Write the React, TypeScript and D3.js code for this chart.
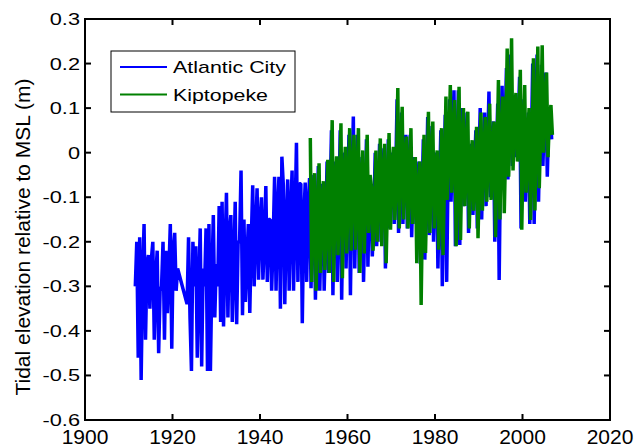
import React from 'react';
import * as d3 from 'd3';

// Atlantic City, 1911.5 - 1921.2 (values every 1/3 year)
const acEarlyStart = 1911.5;
const acEarly = [
  -0.30, -0.20, -0.46,
  -0.19, -0.51, -0.28,
  -0.16, -0.42, -0.25,
  -0.23, -0.35, -0.24,
  -0.20, -0.42, -0.28,
  -0.22, -0.45, -0.31,
  -0.30, -0.20, -0.42,
  -0.22, -0.36, -0.27,
  -0.16, -0.44, -0.22,
  -0.18, -0.31, -0.26,
];

// Atlantic City, 1923.33 - 2006.67 (gap before, joined by a straight line)
const acLateStart = 1923 + 1 / 3;
const acLate = [
  -0.34, -0.19, -0.37,
  -0.49, -0.20, -0.30,
  -0.21, -0.46, -0.30,
  -0.17, -0.48, -0.26,
  -0.30, -0.17, -0.49,
  -0.16, -0.49, -0.28,
  -0.14, -0.37, -0.25,
  -0.30, -0.12, -0.38,
  -0.11, -0.39, -0.22,
  -0.09, -0.37, -0.18,
  -0.14, -0.38, -0.25,
  -0.11, -0.385, -0.20,
  -0.20, -0.04, -0.365,
  -0.15, -0.335, -0.24,
  -0.16, -0.36, -0.20,
  -0.073, -0.30, -0.18,
  -0.08, -0.285, -0.16,
  -0.10, -0.285, -0.20,
  -0.075, -0.29, -0.15,
  -0.15, -0.31, -0.20,
  -0.054, -0.31, -0.13,
  -0.054, -0.35, -0.009,
  -0.073, -0.34, -0.16,
  -0.06, -0.31, -0.14,
  -0.04, -0.31, -0.15,
  0.022, -0.29, -0.07,
  -0.07, -0.383, -0.15,
  -0.067, -0.29, -0.12,
  -0.057, -0.304, -0.13,
  -0.05, -0.33, -0.17,
  -0.03, -0.31, -0.15,
  -0.07, -0.31, -0.18,
  -0.02, -0.27, -0.12,
  0.05, -0.32, -0.10,
  -0.02, -0.29, -0.14,
  0.05, -0.33, -0.10,
  0.0, -0.26, -0.11,
  0.04, -0.32, -0.08,
  0.081, -0.26, -0.06,
  0.04, -0.27, -0.10,
  -0.01, -0.29, -0.13,
  0.03, -0.256, -0.09,
  -0.08, -0.233, -0.15,
  0.0, -0.21, -0.10,
  0.02, -0.20, -0.08,
  0.01, -0.26, -0.11,
  0.03, -0.17, -0.05,
  0.0, -0.16, -0.06,
  0.12, -0.18, -0.02,
  0.09, -0.16, -0.03,
  0.04, -0.17, -0.06,
  0.04, -0.19, -0.07,
  -0.01, -0.16, -0.08,
  -0.02, -0.25, -0.12,
  0.03, -0.24, -0.09,
  0.08, -0.185, -0.05,
  0.06, -0.20, -0.06,
  0.0, -0.26, -0.10,
  0.05, -0.30, -0.08,
  0.085, -0.29, -0.04,
  0.12, -0.11, 0.02,
  0.14, -0.21, -0.02,
  0.14, -0.207, 0.0,
  0.10, -0.12, -0.01,
  0.09, -0.18, -0.03,
  0.02, -0.14, -0.05,
  0.05, -0.17, -0.04,
  0.10, -0.15, -0.01,
  0.09, -0.12, 0.0,
  0.137, -0.10, 0.02,
  0.07, -0.20, -0.02,
  0.11, -0.286, 0.0,
  0.15, -0.06, 0.05,
  0.19, -0.06, 0.07,
  0.22, -0.03, 0.08,
  0.13, -0.01, 0.06,
  0.17, -0.17, 0.03,
  0.12, -0.11, 0.02,
  0.09, -0.16, 0.0,
  0.20, -0.16, 0.05,
  0.22, -0.11, 0.06,
  0.197, -0.03, 0.08,
  0.18, -0.054, 0.07,
  0.10, 0.03,
];

// Kiptopeke, 1951.5 - 2006.8
const kpStart = 1951.5;
const kpValues = [
  0.033, -0.29, -0.10,
  -0.046, -0.31, -0.15,
  -0.024, -0.27, -0.12,
  -0.064, -0.263, -0.14,
  -0.016, -0.27, -0.10,
  0.073, -0.29, -0.08,
  -0.008, -0.23, -0.09,
  0.066, -0.282, -0.07,
  0.013, -0.226, -0.08,
  0.055, -0.22, -0.05,
  0.04, -0.218, -0.06,
  0.055, -0.27, -0.08,
  0.005, -0.226, -0.10,
  0.04, -0.18, -0.05,
  -0.078, -0.22, -0.13,
  0.005, -0.20, -0.08,
  0.032, -0.21, -0.07,
  0.02, -0.248, -0.09,
  0.044, -0.173, -0.04,
  0.013, -0.151, -0.05,
  0.145, -0.17, 0.0,
  0.103, -0.15, -0.02,
  0.036, -0.17, -0.06,
  0.055, -0.16, -0.04,
  -0.01, -0.248, -0.09,
  -0.02, -0.342, -0.10,
  0.04, -0.225, -0.07,
  0.092, -0.18, -0.02,
  0.07, -0.17, -0.04,
  0.005, -0.218, -0.09,
  0.055, -0.23, -0.06,
  0.126, -0.106, 0.01,
  0.152, -0.09, 0.03,
  0.118, -0.21, -0.02,
  0.148, -0.196, 0.0,
  0.10, -0.12, -0.01,
  0.092, -0.17, -0.03,
  0.028, -0.13, -0.05,
  0.058, -0.192, -0.04,
  0.09, -0.13, -0.01,
  0.08, -0.11, 0.0,
  0.11, -0.106, 0.01,
  0.07, -0.19, -0.02,
  0.163, -0.15, 0.02,
  0.126, -0.136, 0.02,
  0.234, -0.054, 0.06,
  0.257, -0.04, 0.08,
  0.134, -0.02, 0.05,
  0.186, -0.173, 0.03,
  0.152, -0.09, 0.02,
  0.10, -0.151, -0.01,
  0.212, -0.13, 0.04,
  0.238, -0.08, 0.06,
  0.241, 0.0, 0.09,
  0.18, -0.01, 0.08,
  0.107, 0.04,
];

const step = 1 / 3;
const xTicks = [1900, 1920, 1940, 1960, 1980, 2000, 2020];
const yTicks = [-0.6, -0.5, -0.4, -0.3, -0.2, -0.1, 0, 0.1, 0.2, 0.3];
const seriesNames = ['Atlantic City', 'Kiptopeke'];
const seriesColors = ['#0000ff', '#008000'];

const W = 637;
const H = 446;
const box = { left: 85, right: 610, top: 19, bottom: 420 };
const font = "'Liberation Sans', Arial, Helvetica, sans-serif";

const toPoints = (start: number, vals: number[]) =>
  vals.map((v, i) => [start + i * step, v] as [number, number]);

export default function App() {
  const x = d3.scaleLinear().domain([1900, 2020]).range([box.left, box.right]);
  const y = d3.scaleLinear().domain([-0.6, 0.3]).range([box.bottom, box.top]);

  const line = d3.line<[number, number]>()
    .x(d => x(d[0]))
    .y(d => y(d[1]));

  const acPoints = [...toPoints(acEarlyStart, acEarly), ...toPoints(acLateStart, acLate)];
  const kpPoints = toPoints(kpStart, kpValues);

  const tick = 6;
  const fmt = (v: number) => String(Math.round(v * 10) / 10);

  return (
    <svg width={W} height={H} style={{ position: 'absolute', left: 0, top: 0, background: '#fff' }}>
      <rect x={0} y={0} width={W} height={H} fill="#fff" />

      <path d={line(acPoints) || ''} fill="none" stroke={seriesColors[0]} strokeWidth={3.5} strokeLinejoin="bevel" />
      <path d={line(kpPoints) || ''} fill="none" stroke={seriesColors[1]} strokeWidth={3.5} strokeLinejoin="bevel" />

      {/* axes box */}
      <rect x={box.left} y={box.top} width={box.right - box.left} height={box.bottom - box.top}
        fill="none" stroke="#000" strokeWidth={2} />

      {xTicks.map(t => (
        <g key={'x' + t}>
          <line x1={x(t)} x2={x(t)} y1={box.bottom} y2={box.bottom - tick} stroke="#000" strokeWidth={2} />
          <line x1={x(t)} x2={x(t)} y1={box.top} y2={box.top + tick} stroke="#000" strokeWidth={2} />
          <text x={x(t)} y={444} textAnchor="middle" fontFamily={font} fontSize={21} fill="#000">{t}</text>
        </g>
      ))}

      {yTicks.map(t => (
        <g key={'y' + t}>
          <line x1={box.left} x2={box.left + tick} y1={y(t)} y2={y(t)} stroke="#000" strokeWidth={2} />
          <line x1={box.right} x2={box.right - tick} y1={y(t)} y2={y(t)} stroke="#000" strokeWidth={2} />
          <text transform={`translate(80,${y(t) + 6}) scale(1.28,1)`} textAnchor="end"
            fontFamily={font} fontSize={17} fill="#000">{fmt(t)}</text>
        </g>
      ))}

      <text transform="translate(30,237) rotate(-90)" textAnchor="middle" fontFamily={font} fontSize={21} fill="#000">
        Tidal elevation relative to MSL (m)
      </text>

      {/* legend */}
      <rect x={111} y={51} width={184} height={61} fill="#fff" stroke="#000" strokeWidth={1} />
      {seriesNames.map((name, i) => (
        <g key={name}>
          <line x1={120} x2={167} y1={67 + i * 27.5} y2={67 + i * 27.5} stroke={seriesColors[i]} strokeWidth={2} />
          <text x={173} y={73 + i * 27.5} fontFamily={font} fontSize={17} fill="#000"
            textLength={i === 0 ? 113 : 95} lengthAdjust="spacingAndGlyphs">{name}</text>
        </g>
      ))}
    </svg>
  );
}
